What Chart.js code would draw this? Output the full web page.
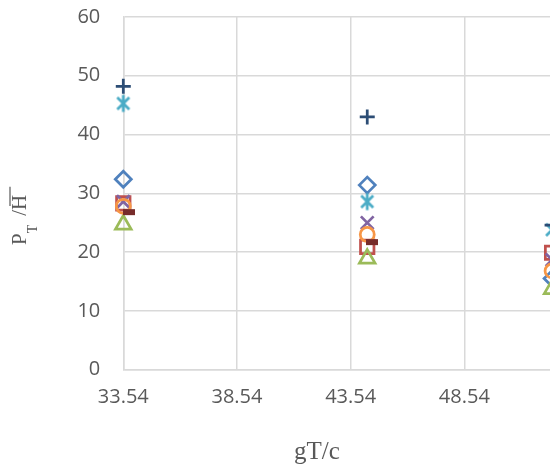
<!DOCTYPE html>
<html>
<head>
<meta charset="utf-8">
<script src="https://cdn.jsdelivr.net/npm/chart.js@4/dist/chart.umd.min.js"></script>
<style>
  html, body { margin: 0; padding: 0; background: #ffffff; overflow: hidden; }
  #wrap { width: 606px; height: 468px; position: relative; }
</style>
</head>
<body>
<div id="wrap"><canvas id="c" width="606" height="468"></canvas></div>
<script>
// ---- data ----
const xValues = [33.54, 44.27, 52.4];
const xValuesDash = [33.79, 44.48, 52.6];
const xTicks = [33.54, 38.54, 43.54, 48.54, 53.54];
const yTicks = [0, 10, 20, 30, 40, 50, 60];

const seriesDiamond  = [32.4, 31.4, 15.5];
const seriesSquare   = [28.3, 20.9, 19.9];
const seriesTriangle = [24.7, 18.9, 13.7];
const seriesX        = [28.6, 25.0, 18.7];
const seriesStar     = [45.3, 28.6, 23.8];
const seriesCircle   = [27.8, 23.0, 16.8];
const seriesPlus     = [48.2, 43.0, 24.6];
const seriesDash     = [26.8, 21.7, 19.5];

const xTitle = 'gT/c';
const yTitleMain = 'P';
const yTitleSub = 'T';
const yTitleSlash = '/';
const yTitleH = 'H';

// ---- marker helpers ----
function makeAsterisk(color, r, lw) {
  const s = Math.ceil(2 * r + lw + 2);
  const cv = document.createElement('canvas');
  cv.width = s; cv.height = s;
  const g = cv.getContext('2d');
  const c = s / 2;
  g.strokeStyle = color; g.lineWidth = lw; g.lineCap = 'butt';
  const d = r * Math.SQRT1_2;
  g.beginPath();
  g.moveTo(c - d, c - d); g.lineTo(c + d, c + d);
  g.moveTo(c + d, c - d); g.lineTo(c - d, c + d);
  g.moveTo(c, c - r); g.lineTo(c, c + r);
  g.stroke();
  return cv;
}

function pts(arr, xs) {
  const out = [];
  arr.forEach((v, i) => { if (v !== null) out.push({ x: xs[i], y: v }); });
  return out;
}

const seriesDefs = [
  { data: seriesDiamond,  xs: xValues,     color: '#4F81BD', style: 'rectRot',  r: 8 },
  { data: seriesSquare,   xs: xValues,     color: '#C0504D', style: 'rect',     r: 9.5 },
  { data: seriesTriangle, xs: xValues,     color: '#9BBB59', style: 'triangle', r: 9 },
  { data: seriesX,        xs: xValues,     color: '#8064A2', style: 'crossRot', r: 9 },
  { data: seriesStar,     xs: xValues,     color: '#4BACC6', style: 'asterisk', r: 8.5 },
  { data: seriesCircle,   xs: xValues,     color: '#F79646', style: 'circle',   r: 7 },
  { data: seriesPlus,     xs: xValues,     color: '#2C4D75', style: 'cross',    r: 7.5 },
  { data: seriesDash,     xs: xValuesDash, color: '#772C2A', style: 'line',     r: 6 }
];

const datasets = seriesDefs.map((s, i) => {
  const isStar = s.style === 'asterisk';
  const isDash = s.style === 'line';
  return {
    label: 'S' + (i + 1),
    data: pts(s.data, s.xs),
    pointStyle: isStar ? makeAsterisk(s.color, s.r, 2.75) : s.style,
    pointRadius: s.r,
    pointHoverRadius: s.r,
    pointBorderColor: s.color,
    pointBackgroundColor: isDash ? s.color : 'rgba(0,0,0,0)',
    pointBorderWidth: isDash ? 6 : 2.75,
    borderColor: s.color,
    backgroundColor: s.color,
    showLine: false,
    clip: false,
    order: -i
  };
});

const titlePlugin = {
  id: 'axisTitles',
  afterDraw(chart) {
    const ctx = chart.ctx;
    ctx.save();
    ctx.fillStyle = '#595959';
    ctx.strokeStyle = '#595959';
    // x title
    ctx.font = '25px "Liberation Serif"';
    ctx.textAlign = 'center';
    ctx.textBaseline = 'alphabetic';
    ctx.fillText(xTitle, 317, 459);
    // y title (rotated)
    ctx.translate(25.5, 245);
    ctx.rotate(-Math.PI / 2);
    ctx.textAlign = 'left';
    let x = 0;
    ctx.font = '21px "Liberation Serif"';
    ctx.fillText(yTitleMain, x, 0);
    x += ctx.measureText(yTitleMain).width;
    ctx.font = '14px "Liberation Serif"';
    ctx.fillText(yTitleSub, x, 11);
    x += ctx.measureText(yTitleSub).width + 9;
    ctx.font = '21px "Liberation Serif"';
    ctx.fillText(yTitleSlash, x, 0);
    x += ctx.measureText(yTitleSlash).width;
    ctx.fillText(yTitleH, x, 0);
    const hw = ctx.measureText(yTitleH).width;
    ctx.lineWidth = 1.2;
    ctx.beginPath();
    ctx.moveTo(x + 4, -15.5);
    ctx.lineTo(x + hw + 8, -15.5);
    ctx.stroke();
    ctx.restore();
  }
};

new Chart(document.getElementById('c'), {
  type: 'scatter',
  data: { datasets },
  plugins: [titlePlugin],
  options: {
    responsive: false,
    animation: false,
    layout: { padding: { left: 0, right: 28, top: 17, bottom: 0 } },
    plugins: { legend: { display: false }, tooltip: { enabled: false } },
    scales: {
      x: {
        type: 'linear',
        min: xTicks[0],
        max: xTicks[xTicks.length - 1],
        afterBuildTicks(axis) { axis.ticks = xTicks.map(v => ({ value: v })); },
        afterFit(axis) {
          axis.height = 98.3;
          axis.paddingLeft = 0; axis.paddingRight = 0;
        },
        grid: { color: '#d9d9d9', lineWidth: 1.5, drawTicks: false },
        border: { color: '#d9d9d9', width: 1.5 },
        ticks: {
          color: '#595959',
          font: { family: '"Open Sans"', size: 20 },
          padding: 16,
          maxRotation: 0,
          callback: v => v.toFixed(2)
        }
      },
      y: {
        min: yTicks[0],
        max: yTicks[yTicks.length - 1],
        afterBuildTicks(axis) { axis.ticks = yTicks.map(v => ({ value: v })); },
        afterFit(axis) {
          axis.width = 123.3;
          axis.paddingTop = 0; axis.paddingBottom = 0;
        },
        grid: { color: '#d9d9d9', lineWidth: 1.5, drawTicks: false },
        border: { color: '#d9d9d9', width: 1.5 },
        ticks: {
          color: '#595959',
          font: { family: '"Open Sans"', size: 20 },
          padding: 23
        }
      }
    }
  }
});
</script>
</body>
</html>
